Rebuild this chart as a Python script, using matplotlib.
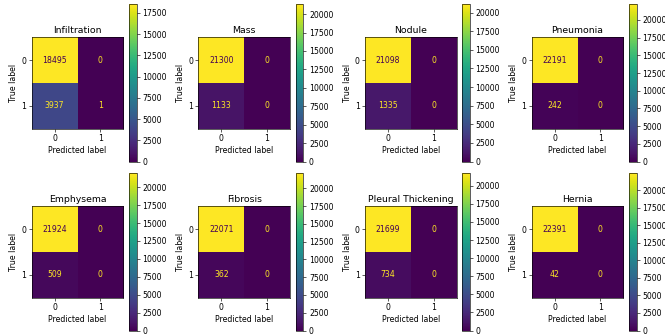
import matplotlib
matplotlib.use('Agg')
import matplotlib.pyplot as plt
import numpy as np

labels = ['Infiltration', 'Mass', 'Nodule', 'Pneumonia',
          'Emphysema', 'Fibrosis', 'Pleural Thickening', 'Hernia']
# [[tn, fp], [fn, tp]] for each label
tn = [18495, 21300, 21098, 22191, 21924, 22071, 21699, 22391]
fp = [0, 0, 0, 0, 0, 0, 0, 0]
fn = [3937, 1133, 1335, 242, 509, 362, 734, 42]
tp = [1, 0, 0, 0, 0, 0, 0, 0]
classes = ['0', '1']

dpi = 56
fig, axes = plt.subplots(2, 4, figsize=(665 / dpi, 335 / dpi), dpi=dpi)

for i, ax in enumerate(axes.flat):
    cm = np.array([[tn[i], fp[i]], [fn[i], tp[i]]])
    im = ax.imshow(cm, interpolation='nearest', cmap='viridis')
    cmap_min, cmap_max = im.cmap(0), im.cmap(1.0)
    thresh = (cm.max() + cm.min()) / 2.0
    for r in range(2):
        for c in range(2):
            color = cmap_max if cm[r, c] < thresh else cmap_min
            ax.text(c, r, format(cm[r, c], 'd'), ha='center', va='center', color=color)
    fig.colorbar(im, ax=ax)
    ax.set(xticks=np.arange(2), yticks=np.arange(2),
           xticklabels=classes, yticklabels=classes,
           ylabel='True label', xlabel='Predicted label')
    ax.set_ylim((1.5, -0.5))
    ax.set_title(labels[i])

plt.subplots_adjust(left=0.0477, right=0.9716, bottom=0.0134, top=0.9866,
                    wspace=0.457, hspace=0.0764)
plt.savefig('out.png', dpi=dpi)
